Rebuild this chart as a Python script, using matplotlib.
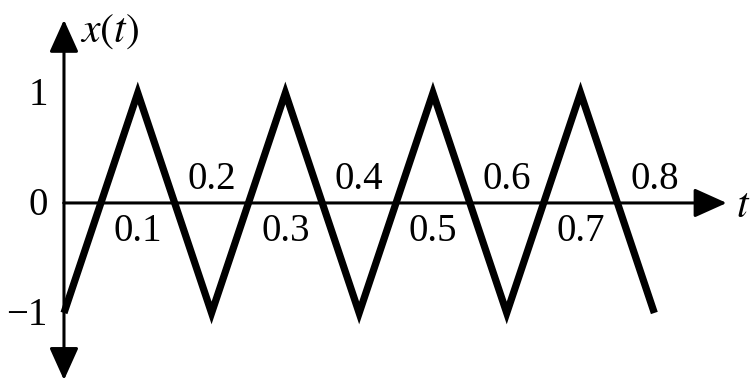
import matplotlib
matplotlib.use('Agg')
import matplotlib.pyplot as plt

plt.rcParams['font.family'] = ['Liberation Serif', 'DejaVu Serif']
plt.rcParams['mathtext.fontset'] = 'stix'

# triangle wave corners
t_pts = [0.0, 0.1, 0.2, 0.3, 0.4, 0.5, 0.6, 0.7, 0.8]
x_pts = [-1, 1, -1, 1, -1, 1, -1, 1, -1]

# time labels, odd ones under the axis, even ones above
t_labels = ['0.1', '0.2', '0.3', '0.4', '0.5', '0.6', '0.7', '0.8']
t_label_pos = [0.1, 0.2, 0.3, 0.4, 0.5, 0.6, 0.7, 0.8]
y_ticks = [1, 0, -1]
y_tick_labels = ['1', '0', '\u22121']

fig = plt.figure(figsize=(7.51, 3.87), dpi=100)
ax = fig.add_axes([0, 0, 1, 1])
ax.set_xlim(-0.0867, 0.931)
ax.set_ylim(-1.673, 1.845)
ax.axis('off')

# axes with arrows
arr = dict(arrowstyle='-|>,head_length=1.0,head_width=0.45',
           lw=2.2, color='k', mutation_scale=20, shrinkA=0, shrinkB=0)
ax.annotate('', xy=(0.898, 0), xytext=(0, 0), arrowprops=arr)
ax.annotate('', xy=(0, 1.665), xytext=(0, 0), arrowprops=arr)
ax.annotate('', xy=(0, -1.61), xytext=(0, 0), arrowprops=arr)

ax.plot(t_pts, x_pts, color='k', lw=5.2, solid_joinstyle='miter', solid_capstyle='butt')

for lab, tp in zip(t_labels, t_label_pos):
    if round(tp * 10) % 2 == 1:
        ax.text(tp, -0.26, lab, ha='center', va='center', fontsize=28)
    else:
        ax.text(tp, 0.21, lab, ha='center', va='center', fontsize=28)

for yv, lab in zip(y_ticks, y_tick_labels):
    ax.text(-0.022, yv - 0.02, lab, ha='right', va='center', fontsize=28)

ax.text(0.022, 1.56, r'$x(t)$', ha='left', va='center', fontsize=30)
ax.text(0.91, -0.03, r'$t$', ha='left', va='center', fontsize=30)

fig.savefig('out.png', dpi=100)
